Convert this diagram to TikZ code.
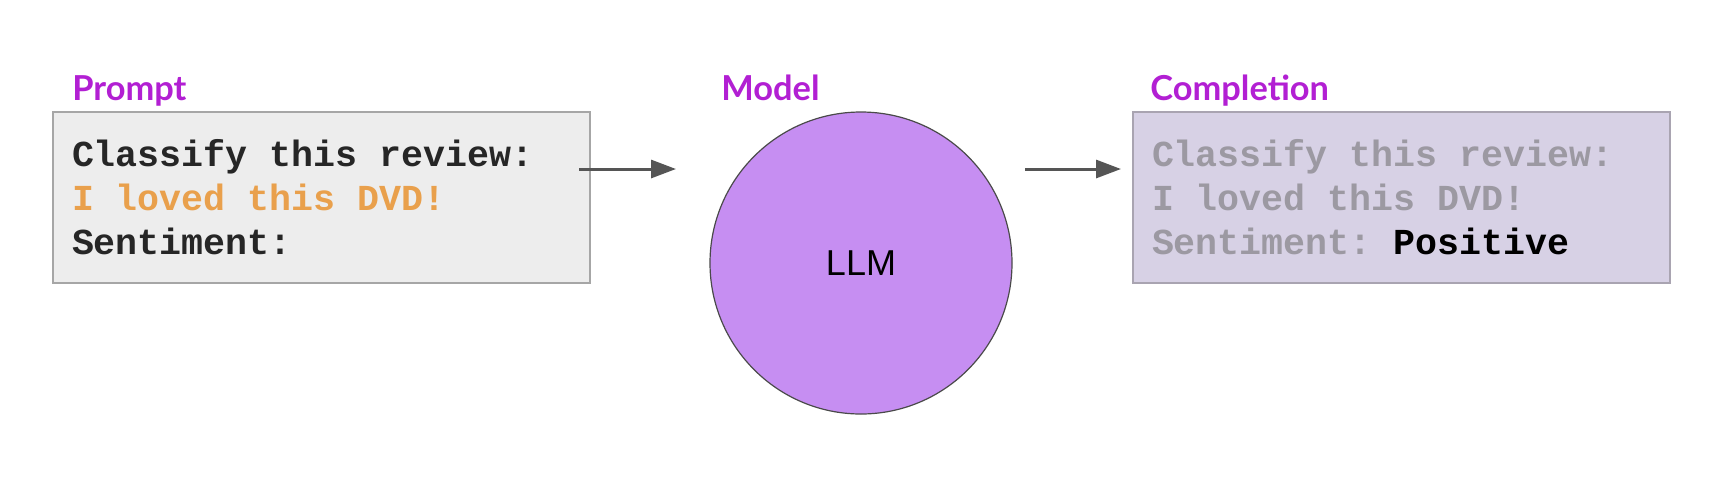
\documentclass[tikz,border=0pt]{standalone}
\usepackage{fontspec}
\setmainfont{Liberation Sans}
\newfontfamily\labelfont{Lato}
\newfontfamily\codefont{Liberation Mono}
\newcommand\codestyle{\codefont\bfseries\fontsize{18.3}{22}\selectfont}
\newcommand\monospacing{\spaceskip=10.98pt plus 0pt minus 0pt\xspaceskip=10.98pt plus 0pt minus 0pt\relax}
\usepackage{tikz}
\usetikzlibrary{arrows.meta}
\definecolor{labelpurple}{HTML}{B21FD3}
\definecolor{promptfill}{HTML}{EDEDED}
\definecolor{promptborder}{HTML}{A6A6A6}
\definecolor{complfill}{HTML}{D7D1E5}
\definecolor{complborder}{HTML}{A9A4B1}
\definecolor{llmfill}{HTML}{C68EF2}
\definecolor{llmborder}{HTML}{4A4A4A}
\definecolor{codetext}{HTML}{262626}
\definecolor{reviewtext}{HTML}{E9A04C}
\definecolor{fadedtext}{HTML}{9C99A2}
\definecolor{arrowgray}{HTML}{555555}

\begin{document}
\begin{tikzpicture}[x=0.5pt, y=-0.5pt,
				textbox/.style={rectangle, line width=0.75pt, minimum width=268.5pt, minimum height=85.5pt, inner xsep=9.5pt, inner ysep=0pt, text width=249.5pt, align=left, font=\codestyle, execute at begin node=\monospacing},
				labelnode/.style={inner sep=0pt, anchor=base west, text=labelpurple, font=\labelfont\bfseries\fontsize{17.2}{20}\selectfont},
				llmnode/.style={circle, draw=llmborder, line width=0.6pt, fill=llmfill, minimum size=151pt, inner sep=0pt, font=\fontsize{18}{22}\selectfont},
				flowarrow/.style={draw=arrowgray, line width=1.5pt, -{Triangle[length=12.5pt, width=9pt]}},
				]
				\useasboundingbox (0,0) rectangle (1718,494);
				\fill[white] (0,0) rectangle (1718,494);
				%Nodes
				\node[textbox, draw=promptborder, fill=promptfill, text=codetext]	(prompt)	at	(321.5,197.5)	{Classify this review:\\ \textcolor{reviewtext}{I loved this DVD!}\\ Sentiment:};
				\node[llmnode]	(llm)	at	(861,263)	{LLM};
				\node[textbox, draw=complborder, fill=complfill, text=fadedtext]	(completion)	at	(1401.5,197.5)	{Classify this review:\\ I loved this DVD!\\ Sentiment: \textcolor{black}{Positive}};
				
				%Labels
				\node[labelnode]	(promptlabel)	at	(72,100)	{Prompt};
				\node[labelnode]	(modellabel)	at	(721,100)	{Model};
				\node[labelnode]	(complabel)	at	(1150,100)	{Completion};
				
				%Lines
				\coordinate (in1) at (579,169);
				\coordinate (in2) at (676,169);
				\coordinate (out1) at (1025,169);
				\coordinate (out2) at (1121,169);
				\draw[flowarrow] (in1) -- (in2);
				\draw[flowarrow] (out1) -- (out2);
			\end{tikzpicture}
\end{document}
